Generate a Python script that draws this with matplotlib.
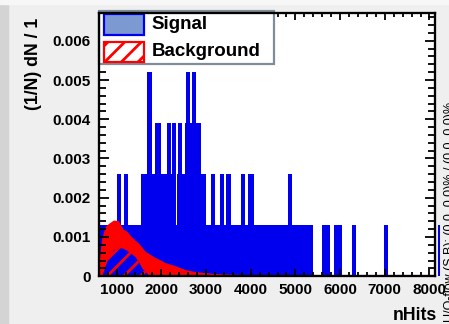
import numpy as np
import matplotlib
matplotlib.use('Agg')
import matplotlib.pyplot as plt
from matplotlib.ticker import MultipleLocator, FuncFormatter
from matplotlib.patches import Rectangle

plt.rcParams['font.family'] = ['Liberation Sans', 'DejaVu Sans']
plt.rcParams['hatch.linewidth'] = 2.0
plt.rcParams['hatch.color'] = 'red'

unit = 0.0013
sig_lvl1 = [(600, 5386), (5587, 5773), (5863, 6048), (6259, 6348), (6988, 7071), (8195, 8235)]
sig_lvl2 = [(1000, 1090), (1170, 1260), (1544, 2336), (2350, 2992), (3110, 3200),
            (3312, 3401), (3446, 3565), (3782, 3864), (3945, 4066), (4827, 4923)]
sig_lvl3 = [(1857, 1985), (2119, 2215), (2231, 2334), (2379, 2468), (2528, 2887)]
sig_lvl4 = [(1685, 1783), (2544, 2640), (2678, 2768)]

# background: upper / lower edge of the fluctuating outline
bkg_x = [600, 627, 665, 738, 812, 924, 1036, 1141, 1224, 1336, 1410, 1484, 1560, 1633,
         1745, 1857, 1969, 2081, 2305, 2529, 2752, 2976, 3200, 3600, 4500, 8135]
bkg_hi = [0.0002, 0.0006, 0.00095, 0.00126, 0.00134, 0.00143, 0.00142, 0.0012, 0.00115,
          0.001, 0.00092, 0.00085, 0.00075, 0.00064, 0.00056, 0.00048, 0.00042, 0.00035,
          0.00027, 0.00017, 0.00012, 0.00009, 0.00007, 0.00005, 0.00003, 0.00002]
bkg_lo_x = [600, 680, 738, 812, 880, 962, 1112, 1260, 1410, 1484, 1560, 1672, 1750, 8135]
bkg_lo = [0, 0, 0.00025, 0.00048, 0.00062, 0.00073, 0.00073, 0.00064, 0.0005, 0.00038,
          0.00022, 0.00007, 0, 0]

W, H = 449, 324
fig = plt.figure(figsize=(W / 100, H / 100), dpi=100, facecolor='#efefef')
fig.add_artist(Rectangle((0, 0), 8 / W, 1, transform=fig.transFigure, color='#d4d4d4', zorder=0))
fig.add_artist(Rectangle((0, 1 - 4 / H), 1, 4 / H, transform=fig.transFigure, color='#f7f7f7', zorder=0))

ax = fig.add_axes([98.8 / W, 1 - 276.2 / H, (435.5 - 98.8) / W, (276.2 - 13.3) / H])
ax.set_facecolor('white')

blue = '#0000ee'
for lvl, segs in enumerate([sig_lvl1, sig_lvl2, sig_lvl3, sig_lvl4], start=1):
    for a, b in segs:
        ax.bar(a, lvl * unit, width=b - a, align='edge', color=blue, lw=0, zorder=1, clip_on=False)

lo_on_hi = np.interp(bkg_x, bkg_lo_x, bkg_lo)
ax.fill_between(bkg_x, lo_on_hi, bkg_hi, color='red', lw=0, zorder=1.5)
ax.fill_between(bkg_lo_x, 0, bkg_lo, facecolor='none', edgecolor='red', hatch='//', lw=0, zorder=1.5)
ax.axhline(0, color='red', lw=1.5, zorder=1.6)

ax.set_xlim(600, 8135)
ax.set_ylim(0, 0.0067)

ax.xaxis.set_major_locator(MultipleLocator(1000))
ax.xaxis.set_minor_locator(MultipleLocator(200))
ax.yaxis.set_major_locator(MultipleLocator(0.001))
ax.yaxis.set_minor_locator(MultipleLocator(0.0002))
ax.yaxis.set_major_formatter(FuncFormatter(lambda v, p: '0' if abs(v) < 1e-9 else '%g' % v))

ax.tick_params(axis='x', which='major', direction='in', length=5.3, width=1.3, top=True, pad=5)
ax.tick_params(axis='x', which='minor', direction='in', length=2.9, width=1.3, top=True)
ax.tick_params(axis='y', which='major', direction='in', length=7.5, width=1.3, right=True, pad=6)
ax.tick_params(axis='y', which='minor', direction='in', length=4.7, width=1.3, right=True)
for lab in ax.get_xticklabels() + ax.get_yticklabels():
    lab.set_fontsize(11)
    lab.set_fontweight('bold')
for s in ax.spines.values():
    s.set_linewidth(1.65)

# legend drawn by hand
def fr(x, y):
    return (x / W, 1 - y / H)

leg = Rectangle(fr(98.8, 64.2), (274 - 98.8) / W, (64.2 - 11) / H, transform=fig.transFigure,
                facecolor='white', edgecolor='#7f8c9a', lw=1.6, zorder=2.2, clip_on=False)
ax.add_artist(leg)
sbox = Rectangle(fr(104, 35), 40 / W, 21 / H, transform=fig.transFigure,
                 facecolor='#7d99d1', edgecolor=blue, lw=1.6, zorder=2.3, clip_on=False)
ax.add_artist(sbox)
bbox_ = Rectangle(fr(104.3, 62.3), 39.3 / W, 20.6 / H, transform=fig.transFigure,
                  facecolor='white', edgecolor='red', hatch='//', lw=1.6, zorder=2.3, clip_on=False)
ax.add_artist(bbox_)
fig.text(*fr(151.7, 29.3), 'Signal', fontsize=13.5, weight='bold', va='baseline', ha='left', zorder=3)
fig.text(*fr(151.7, 56), 'Background', fontsize=13.5, weight='bold', va='baseline', ha='left', zorder=3)

fig.text(33.5 / W, 1 - 18 / H, '(1/N) dN / 1', rotation=90, ha='center', va='top',
         fontsize=12.7, weight='bold')
fig.text(437 / W, 1 - 320 / H, 'nHits', ha='right', va='baseline', fontsize=12.7, weight='bold')
fig.text(443.5 / W, 2 / H, 'U/O-flow (S,B): (0.0, 0.0)% / (0.0, 0.0)%', rotation=90,
         ha='left', va='bottom', fontsize=9)

fig.savefig('out.png', dpi=100, facecolor=fig.get_facecolor())
